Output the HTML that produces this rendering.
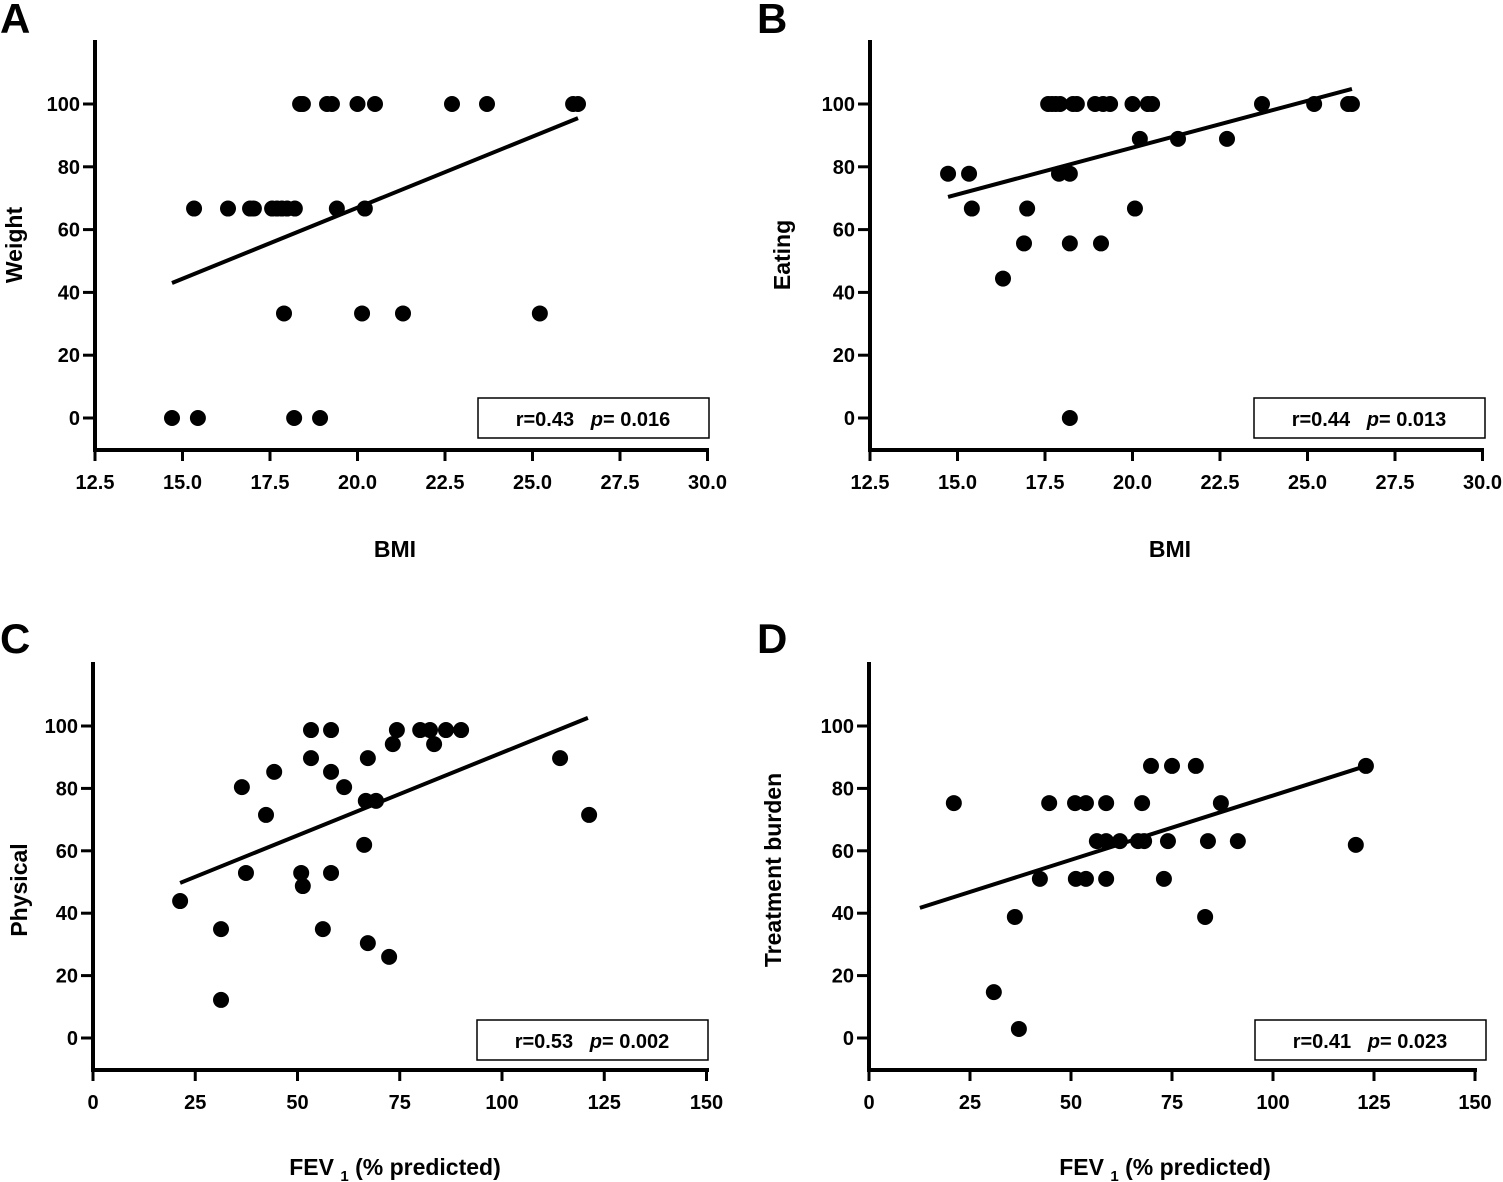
<!DOCTYPE html>
<html><head><meta charset="utf-8"><style>
body{margin:0;background:#fff;}
svg{display:block;font-family:"Liberation Sans",Arial,sans-serif;}
</style></head><body>
<svg id="fig" width="1503" height="1182" viewBox="0 0 1503 1182">
<text x="0" y="33" font-size="42" font-weight="bold">A</text>
<text x="757" y="33" font-size="42" font-weight="bold">B</text>
<text x="0" y="653" font-size="42" font-weight="bold">C</text>
<text x="757" y="653" font-size="42" font-weight="bold">D</text>
</svg>
<script>
// Panel A: Weight vs BMI
const aX = [18.36,18.44,19.13,19.27,20.0,20.5,22.7,23.7,26.16,26.3,15.33,16.3,16.93,17.04,17.56,17.7,17.84,17.99,18.21,19.41,20.21,17.9,20.13,21.3,25.21,14.7,15.44,18.19,18.93];
const aY = [100,100,100,100,100,100,100,100,100,100,66.7,66.7,66.7,66.7,66.7,66.7,66.7,66.7,66.7,66.7,66.7,33.3,33.3,33.3,33.3,0,0,0,0];
const aFitX = [14.7,26.3];
const aFitY = [43,95.5];
// Panel B: Eating vs BMI
const bX = [17.59,17.7,17.81,17.93,18.3,18.41,18.93,19.16,19.36,20.0,20.44,20.56,23.7,25.19,26.16,26.27,20.21,21.3,22.7,14.73,15.33,17.9,18.21,15.41,16.99,20.07,16.9,18.21,19.1,16.3,18.21];
const bY = [100,100,100,100,100,100,100,100,100,100,100,100,100,100,100,100,88.9,88.9,88.9,77.8,77.8,77.8,77.8,66.7,66.7,66.7,55.6,55.6,55.6,44.4,0];
const bFitX = [14.73,26.27];
const bFitY = [70.4,104.8];
// Panel C: Physical vs FEV1
const cX = [21.3,31.3,31.3,36.4,37.4,42.3,44.3,50.9,51.3,53.3,53.3,56.2,58.2,58.2,58.2,61.4,66.3,67.2,67.2,66.7,69.2,72.4,73.3,74.3,80,82.4,83.4,86.3,90,114.2,121.3];
const cY = [43.9,34.9,12.2,80.4,52.9,71.5,85.3,52.9,48.7,98.7,89.7,34.9,85.3,98.7,52.9,80.4,61.9,89.7,30.4,76,76,26,94.2,98.7,98.7,98.7,94.2,98.7,98.7,89.7,71.5];
const cFitX = [21.3,121];
const cFitY = [49.7,102.6];
// Panel D: Treatment burden vs FEV1
const dX = [21,30.9,36.1,37.1,42.3,44.6,51,53.7,51.2,53.7,56.4,58.7,58.7,58.7,62.1,66.6,68.1,67.6,69.8,75,73,74,80.9,83.2,83.9,87.1,91.3,120.5,123];
const dY = [75.3,14.7,38.8,2.9,51,75.3,75.3,75.3,51,51,63.1,75.3,63.1,51,63.1,63.1,63.1,75.3,87.2,87.2,51,63.1,87.2,38.8,63.1,75.3,63.1,61.9,87.2];
const dFitX = [12.6,123];
const dFitY = [41.7,87.2];
const bmiTicks = ["12.5","15.0","17.5","20.0","22.5","25.0","27.5","30.0"];
const fevTicks = ["0","25","50","75","100","125","150"];
const yTicks = ["0","20","40","60","80","100"];

const NS = "http://www.w3.org/2000/svg";
const svg = document.getElementById('fig');
function mk(tag, attrs, parent){
  const e = document.createElementNS(NS, tag);
  for (const k in attrs) e.setAttribute(k, attrs[k]);
  (parent||svg).appendChild(e);
  return e;
}
function panel(cfg){
  const g = mk('g', {});
  
  
  const sx = v => cfg.x0 + (v - cfg.xmin) * cfg.xs;
  const sy = v => cfg.y0 - v * cfg.ys;
  const ya = mk('line', {x1:cfg.x0, y1:cfg.top, x2:cfg.x0, y2:cfg.axY+2, stroke:'#000','stroke-width':4}, g);
  
  
  const xa = mk('line', {x1:cfg.x0-2, y1:cfg.axY, x2:cfg.xEnd+2, y2:cfg.axY, stroke:'#000','stroke-width':4}, g);
  
  
  cfg.xt.forEach(t => {
    const px = sx(parseFloat(t));
    mk('line', {x1:px, y1:cfg.axY, x2:px, y2:cfg.axY+11, stroke:'#000','stroke-width':3}, g);
    const tx = mk('text', {x:px, y:cfg.axY+39, 'font-size':20, 'font-weight':'bold', 'text-anchor':'middle'}, g);
    tx.textContent = t;
    
    
  });
  yTicks.forEach(t => {
    const py = sy(parseFloat(t));
    mk('line', {x1:cfg.x0-12, y1:py, x2:cfg.x0, y2:py, stroke:'#000','stroke-width':3}, g);
    const tx = mk('text', {x:cfg.x0-15, y:py+7, 'font-size':20, 'font-weight':'bold', 'text-anchor':'end'}, g);
    tx.textContent = t;
    
    
  });
  const fl = mk('line', {x1:sx(cfg.fx[0]), y1:sy(cfg.fy[0]), x2:sx(cfg.fx[1]), y2:sy(cfg.fy[1]), stroke:'#000','stroke-width':4}, g);
  
  
  cfg.xs_.forEach((v,i) => {
    const c = mk('circle', {cx:sx(v), cy:sy(cfg.ys_[i]), r:8, fill:'#000'}, g);
    
    
  });
  const bx = mk('rect', {x:cfg.box[0], y:cfg.box[1], width:231, height:40, fill:'#fff', stroke:'#000', 'stroke-width':1.5}, g);
  
  
  const st = mk('text', {x:cfg.box[0]+115, y:cfg.box[1]+28, 'font-size':20, 'font-weight':'bold', 'text-anchor':'middle'}, g);
  st.innerHTML = cfg.r + '\u00a0\u00a0\u00a0<tspan font-style="italic">p</tspan>= ' + cfg.p;
  
  
  const xt = mk('text', {x:cfg.xtPos[0], y:cfg.xtPos[1], 'font-size':23, 'font-weight':'bold', 'text-anchor':'middle'}, g);
  xt.innerHTML = cfg.xTitle;
  
  
  const yt = mk('text', {x:0, y:0, 'font-size':23, 'font-weight':'bold', 'text-anchor':'middle', transform:'translate('+cfg.ytPos[0]+','+cfg.ytPos[1]+') rotate(-90)'}, g);
  yt.textContent = cfg.yTitle;
  
  
}
const fevTitle = 'FEV <tspan font-size="15" dy="6">1</tspan><tspan dy="-6"> (%  predicted)</tspan>';
panel({name:'panel-a-weight', x0:95, xmin:12.5, xs:35, y0:418, ys:3.14, top:40, axY:450, xEnd:707, xt:bmiTicks,
  xs_:aX, ys_:aY, fx:aFitX, fy:aFitY, box:[478,398], r:'r=0.43', p:'0.016', xTitle:'BMI', xtPos:[395,557], yTitle:'Weight', ytPos:[22,245]});
panel({name:'panel-b-eating', x0:870, xmin:12.5, xs:35, y0:418, ys:3.14, top:40, axY:450, xEnd:1482, xt:bmiTicks,
  xs_:bX, ys_:bY, fx:bFitX, fy:bFitY, box:[1254,398], r:'r=0.44', p:'0.013', xTitle:'BMI', xtPos:[1170,557], yTitle:'Eating', ytPos:[790,255]});
panel({name:'panel-c-physical', x0:93, xmin:0, xs:4.09, y0:1038, ys:3.12, top:662, axY:1070, xEnd:707, xt:fevTicks,
  xs_:cX, ys_:cY, fx:cFitX, fy:cFitY, box:[477,1020], r:'r=0.53', p:'0.002', xTitle:fevTitle, xtPos:[395,1175], yTitle:'Physical', ytPos:[27,890]});
panel({name:'panel-d-treatment-burden', x0:869, xmin:0, xs:4.04, y0:1038, ys:3.12, top:662, axY:1070, xEnd:1475, xt:fevTicks,
  xs_:dX, ys_:dY, fx:dFitX, fy:dFitY, box:[1255,1020], r:'r=0.41', p:'0.023', xTitle:fevTitle, xtPos:[1165,1175], yTitle:'Treatment  burden', ytPos:[781,870]});
</script>
</body></html>
